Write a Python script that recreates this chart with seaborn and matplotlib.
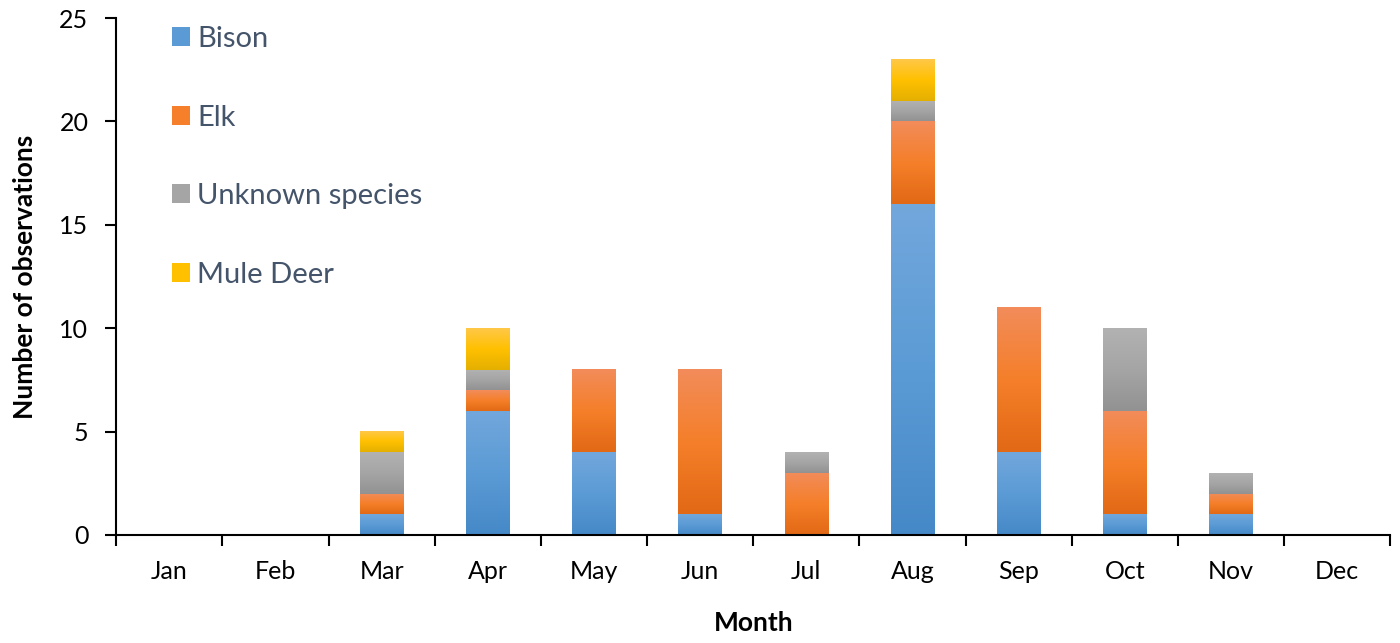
import numpy as np
import pandas as pd
import matplotlib
matplotlib.use('Agg')
import matplotlib.pyplot as plt
import seaborn as sns
from matplotlib.colors import LinearSegmentedColormap
from matplotlib.patches import Patch

# data
months = ['Jan', 'Feb', 'Mar', 'Apr', 'May', 'Jun', 'Jul', 'Aug', 'Sep', 'Oct', 'Nov', 'Dec']
bison = [0, 0, 1, 6, 4, 1, 0, 16, 4, 1, 1, 0]
elk = [0, 0, 1, 1, 4, 7, 3, 4, 7, 5, 1, 0]
unknown = [0, 0, 2, 1, 0, 0, 1, 1, 0, 4, 1, 0]
mule_deer = [0, 0, 1, 2, 0, 0, 0, 2, 0, 0, 0, 0]
series_names = ['Bison', 'Elk', 'Unknown species', 'Mule Deer']

# (top, mid, bottom) gradient colours, Excel style
grads = [
    ('#72a7dc', '#5b9bd5', '#4689c8'),
    ('#f28c5a', '#f57f2a', '#e26915'),
    ('#b2b2b2', '#a5a5a5', '#929292'),
    ('#ffc848', '#ffc000', '#e4b000'),
]

sns.set_style('white')
plt.rcParams['font.family'] = ['Lato', 'DejaVu Sans']
plt.rcParams['text.color'] = 'black'
plt.rcParams['xtick.color'] = 'black'
plt.rcParams['ytick.color'] = 'black'
plt.rcParams['axes.labelcolor'] = 'black'

df = pd.DataFrame({'Month': months, 'Bison': bison, 'Elk': elk,
                   'Unknown species': unknown, 'Mule Deer': mule_deer})
cum = df[series_names].cumsum(axis=1)

fig, ax = plt.subplots(figsize=(14, 6.43), dpi=100)
fig.subplots_adjust(left=0.083, right=0.993, bottom=0.168, top=0.972)

# overlay cumulative bars, top series first
for name, g in zip(series_names[::-1], grads[::-1]):
    sns.barplot(x=df['Month'], y=cum[name], color=g[1], width=0.41,
                saturation=1, ax=ax, edgecolor='none', zorder=2)

containers = ax.containers[::-1]  # Bison first
for k, cont in enumerate(containers):
    cmap = LinearSegmentedColormap.from_list('g%d' % k, [grads[k][2], grads[k][1], grads[k][0]])
    for j, p in enumerate(cont.patches):
        top = p.get_height()
        bot = containers[k - 1].patches[j].get_height() if k > 0 else 0
        if top - bot <= 0:
            continue
        x0 = p.get_x()
        x1 = x0 + p.get_width()
        ax.imshow(np.linspace(0, 1, 100).reshape(-1, 1), cmap=cmap, origin='lower',
                  extent=(x0, x1, bot, top), aspect='auto', zorder=3 + k,
                  interpolation='bilinear')

ax.set_xlim(-0.5, 11.5)
ax.set_ylim(0, 25)
ax.set_yticks(range(0, 26, 5))
ax.set_xticks(range(12))
ax.set_xticklabels(months)
ax.set_xticks(np.arange(-0.5, 12, 1), minor=True)
ax.tick_params(axis='x', which='major', length=0, pad=18, labelsize=18)
ax.tick_params(axis='x', which='minor', length=8, width=1.5, direction='out', bottom=True)
ax.tick_params(axis='y', length=8, width=1.5, direction='out', left=True, labelsize=18, pad=12)

for s in ['top', 'right']:
    ax.spines[s].set_visible(False)
for s in ['left', 'bottom']:
    ax.spines[s].set_color('black')
    ax.spines[s].set_linewidth(1.5)
    ax.spines[s].set_zorder(10)

ax.set_xlabel('Month', fontsize=19, fontweight='bold', labelpad=20)
ax.set_ylabel('Number of observations', fontsize=19, fontweight='bold', labelpad=16)

handles = [Patch(facecolor=g[1], edgecolor='none') for g in grads]
leg = ax.legend(handles, series_names, loc='upper left', bbox_to_anchor=(0.023, 1.035),
                frameon=False, fontsize=21, labelspacing=1.8, handlelength=0.62,
                handleheight=0.62, handletextpad=0.25, labelcolor='#44546a')

fig.savefig('out.png', dpi=100)
